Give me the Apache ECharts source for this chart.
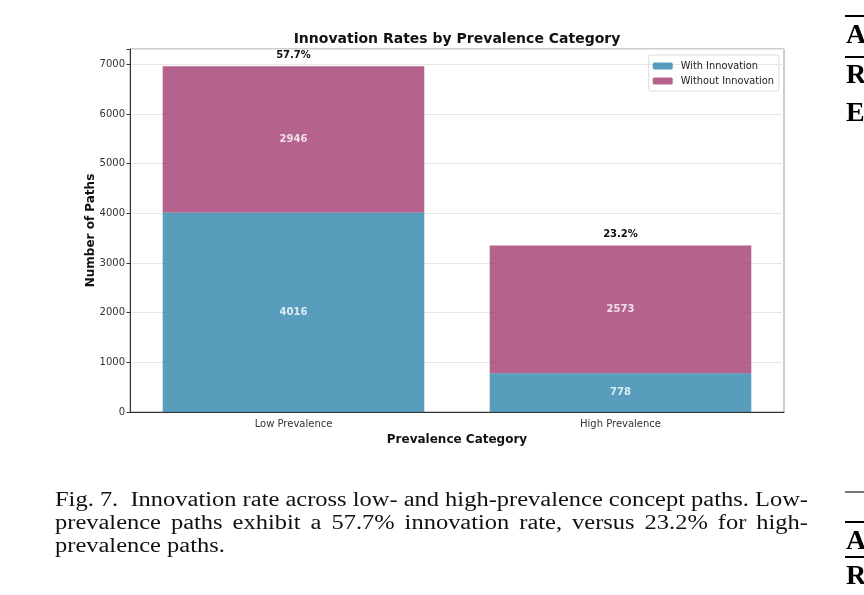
<!DOCTYPE html>
<html>
<head>
<meta charset="utf-8">
<script src="https://cdn.jsdelivr.net/npm/echarts@6/dist/echarts.min.js"></script>
<style>
  html, body { margin: 0; padding: 0; background: #fff; }
  #wrap { position: relative; width: 864px; height: 595px; overflow: hidden; }
  #chart { position: absolute; left: 0; top: 0; width: 864px; height: 595px; }
  #caption { position: absolute; left: 55px; top: 488px; width: 753px;
    font-family: "Liberation Serif", "DejaVu Serif", serif; font-size: 20px; line-height: 23px;
    color: #111; transform-origin: 0 0; }
  #caption div { text-align: justify; text-align-last: justify; white-space: nowrap; }
  #caption div.last { text-align-last: left; }
  #measure { position: absolute; left: 0; top: 0; visibility: hidden; white-space: nowrap;
    font-family: "Liberation Serif", "DejaVu Serif", serif; font-size: 20px; }
  .frag { position: absolute; left: 846px; font-family: "Liberation Serif", serif; font-weight: bold;
    font-size: 28px; line-height: 1; color: #000; }
  .rule { position: absolute; left: 845px; width: 30px; height: 1.5px; background: #000; }
</style>
</head>
<body>
<div id="wrap">
  <div id="chart"></div>
  <div id="caption">
    <div>Fig. 7.&nbsp; Innovation rate across low- and high-prevalence concept paths. Low-</div>
    <div>prevalence paths exhibit a 57.7% innovation rate, versus 23.2% for high-</div>
    <div class="last">prevalence paths.</div>
  </div>
  <span id="measure">Fig. 7.&nbsp; Innovation rate across low- and high-prevalence concept paths. Low-</span>
  <div class="rule" style="top:15px"></div>
  <div class="frag" style="top:20px">A</div>
  <div class="rule" style="top:56px"></div>
  <div class="frag" style="top:60px">R</div>
  <div class="frag" style="top:98px">E</div>
  <div class="rule" style="top:491px;background:#777"></div>
  <div class="rule" style="top:521px"></div>
  <div class="frag" style="top:526px">A</div>
  <div class="rule" style="top:556px"></div>
  <div class="frag" style="top:561px">R</div>
</div>
<script>
const categories = ['Low Prevalence', 'High Prevalence'];
const withInnovation = [4016, 778];
const withoutInnovation = [2946, 2573];
const yTicks = [0, 1000, 2000, 3000, 4000, 5000, 6000, 7000];

const totals = categories.map((c, i) => withInnovation[i] + withoutInnovation[i]);
const rates = categories.map((c, i) => (100 * withInnovation[i] / totals[i]).toFixed(1) + '%');

// caption: scale so that the first line fills the column at natural spacing
(function () {
  const cap = document.getElementById('caption');
  const m = document.getElementById('measure');
  const w = m.getBoundingClientRect().width;
  const s = 753 / w;
  cap.style.width = (753 / s) + 'px';
  cap.style.transform = 'scaleX(' + s + ')';
  m.parentNode.removeChild(m);
})();

const chart = echarts.init(document.getElementById('chart'), null, { renderer: 'canvas' });
const font = 'DejaVu Sans';
chart.setOption({
  animation: false,
  backgroundColor: '#fff',
  graphic: [{
    type: 'text', x: 457, y: 39,
    style: { text: 'Innovation Rates by Prevalence Category', font: 'bold 14px "DejaVu Sans"', fill: '#111',
      align: 'center', verticalAlign: 'middle' }
  }],
  grid: { left: 130, right: 80, top: 49, bottom: 183, show: true, borderColor: '#999', borderWidth: 1 },
  legend: {
    right: 85, top: 55, orient: 'vertical', itemWidth: 20, itemHeight: 7, itemGap: 5,
    padding: [6, 5, 5, 4], borderColor: '#ddd', borderWidth: 1, borderRadius: 2,
    textStyle: { fontFamily: font, fontSize: 9.8, color: '#222', padding: [0, 0, 0, 3] },
    data: ['With Innovation', 'Without Innovation']
  },
  xAxis: {
    type: 'category', data: categories,
    name: 'Prevalence Category', nameLocation: 'middle', nameGap: 22, nameMoveOverlap: false,
    nameTextStyle: { fontFamily: font, fontWeight: 'bold', fontSize: 12, color: '#111' },
    axisLine: { lineStyle: { color: '#333', width: 1 } },
    axisTick: { alignWithLabel: true, length: 3.5, lineStyle: { color: '#333' } },
    axisLabel: { fontFamily: font, fontSize: 10, color: '#333', margin: 7 }
  },
  yAxis: {
    type: 'value', min: 0, max: 7310, interval: 1000,
    name: 'Number of Paths', nameLocation: 'middle', nameGap: 33, nameMoveOverlap: false,
    nameTextStyle: { fontFamily: font, fontWeight: 'bold', fontSize: 12, color: '#111' },
    axisLine: { show: true, lineStyle: { color: '#333', width: 1 } },
    axisTick: { show: true, length: 3.5, lineStyle: { color: '#333' } },
    axisLabel: { fontFamily: font, fontSize: 10, color: '#333', margin: 5,
      formatter: v => (yTicks.indexOf(v) >= 0 ? String(v) : '') },
    splitLine: { show: true, lineStyle: { color: '#e6e6e6', width: 1 } }
  },
  series: [
    {
      name: 'With Innovation', type: 'bar', stack: 'a', barWidth: '80%', data: withInnovation,
      itemStyle: { color: '#2E86AB', opacity: 0.8 },
      label: { show: true, position: 'inside', color: '#fff', fontFamily: font, fontWeight: 'bold', fontSize: 10 }
    },
    {
      name: 'Without Innovation', type: 'bar', stack: 'a', barWidth: '80%', data: withoutInnovation,
      itemStyle: { color: '#A23B72', opacity: 0.8 },
      label: { show: true, position: 'inside', color: '#fff', fontFamily: font, fontWeight: 'bold', fontSize: 10 }
    },
    {
      name: 'rate', type: 'bar', stack: 'a', barWidth: '80%', data: categories.map(() => 0),
      itemStyle: { color: 'transparent' }, silent: true,
      label: { show: true, position: 'top', distance: 6, color: '#111', fontFamily: font, fontWeight: 'bold', fontSize: 10,
        formatter: p => rates[p.dataIndex] }
    }
  ]
});
</script>
</body>
</html>
